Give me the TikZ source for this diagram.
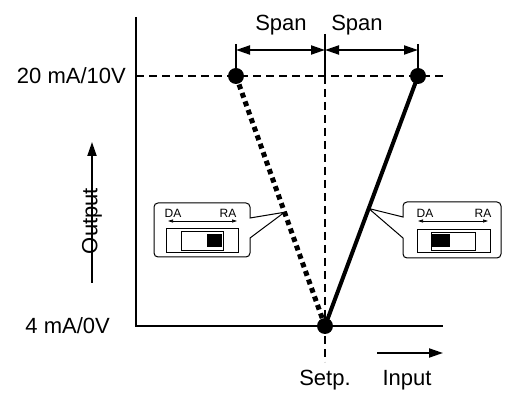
\documentclass[tikz,border=0pt]{standalone}
\usepackage{fontspec}
\setmainfont{Liberation Sans}
\usetikzlibrary{arrows.meta,calc}

\begin{document}
\begin{tikzpicture}[x=1pt, y=-1pt, font=\fontsize{22}{26}\selectfont,
    axis/.style={line width=2pt},
    guide/.style={line width=1.5pt, dash pattern=on 8pt off 5pt},
    dot/.style={circle, fill=black, inner sep=0pt, minimum size=16pt},
    da/.style={line width=5pt, dash pattern=on 5pt off 4pt},
    ra/.style={line width=4pt},
    spanarrow/.style={line width=2pt, {Triangle[length=14pt,width=9pt]}-{Triangle[length=14pt,width=9pt]}},
    dirarrow/.style={line width=2pt, -{Triangle[length=14pt,width=9pt]}},
    tiny/.style={font=\fontsize{12}{14}\selectfont, inner sep=0pt},
    thinarrow/.style={line width=0.6pt, {Triangle[length=5pt,width=3pt]}-{Triangle[length=5pt,width=3pt]}}]
    \useasboundingbox (0,0) rectangle (507,395);

    % Axes
    \coordinate (ytop) at (136,17);
    \coordinate (orig) at (136,326);
    \coordinate (xend) at (443,326);
    \draw[axis] (ytop) -- (orig) -- (xend);

    % Points
    \node[dot] (hi1) at (236,76) {};
    \node[dot] (hi2) at (418,76) {};
    \node[dot] (setp) at (325,326) {};

    % Guides
    \coordinate (y20) at (136,76);
    \coordinate (y20e) at (443,76);
    \coordinate (ctop) at (325,34);
    \coordinate (cmid) at (325,76);
    \coordinate (cbot) at (325,362);
    \draw[guide] (y20) -- (y20e);
    \draw[guide] (cmid) -- (cbot);
    \draw[line width=2pt] (ctop) -- (cmid);

    % Span
    \coordinate (t1) at (236,44);
    \coordinate (t2) at (418,44);
    \draw[line width=2pt] (t1) -- (hi1.center);
    \draw[line width=2pt] (t2) -- (hi2.center);
    \coordinate (a1) at (236,50);
    \coordinate (a0) at (325,50);
    \coordinate (a2) at (418,50);
    \draw[spanarrow] (a1) -- (a0);
    \draw[spanarrow] (a0) -- (a2);
    \node (span1) at (281,25) {Span};
    \node (span2) at (357,25) {Span};

    % Characteristics
    \draw[da] (hi1.center) -- (setp.center);
    \draw[ra] (hi2.center) -- (setp.center);

    % Labels
    \node[anchor=east, inner sep=0pt] (l20) at (126,76) {20 mA/10V};
    \node[anchor=east, inner sep=0pt] (l4) at (110,326) {4 mA/0V};
    \node (lsetp) at (325,380) {Setp.};
    \node (linput) at (407,380) {Input};
    \coordinate (in1) at (377,353);
    \coordinate (in2) at (443,353);
    \draw[dirarrow] (in1) -- (in2);
    \coordinate (out1) at (92,283);
    \coordinate (out2) at (92,142);
    \draw[dirarrow] (out1) -- (out2);
    \node[rotate=90, inner sep=0pt] (lout) at (92,221) {Output};

    % Left switch (DA)
    \coordinate (ltip) at ($(hi1.center)!0.545!(setp.center)$);
    \draw[line width=1pt, fill=white] (250,218) -- (ltip) -- (250,238)
        [rounded corners=4pt] -- (250,257) -- (154,257) -- (154,203) -- (250,203) [sharp corners] -- cycle;
    \node[tiny] (lda) at (173,213) {DA};
    \node[tiny] (lra) at (228,213) {RA};
    \draw[thinarrow] (168,221) -- (237,221);
    \draw[line width=0.8pt] (166,228) rectangle (238,252);
    \draw[line width=0.8pt] (181,231) rectangle (223,250);
    \fill (207,234) rectangle (222,247);

    % Right switch (RA)
    \coordinate (rtip) at ($(hi2.center)!0.53!(setp.center)$);
    \draw[line width=1pt, fill=white] (403,217) -- (rtip) -- (403,238)
        [rounded corners=4pt] -- (403,258) -- (501,258) -- (501,202) -- (403,202) [sharp corners] -- cycle;
    \node[tiny] (rda) at (425,213) {DA};
    \node[tiny] (rra) at (483,213) {RA};
    \draw[thinarrow] (418,221) -- (488,221);
    \draw[line width=0.8pt] (417,229) rectangle (490,252);
    \draw[line width=0.8pt] (431,232) rectangle (475,250);
    \fill (432,234) rectangle (450,247);
\end{tikzpicture}
\end{document}
